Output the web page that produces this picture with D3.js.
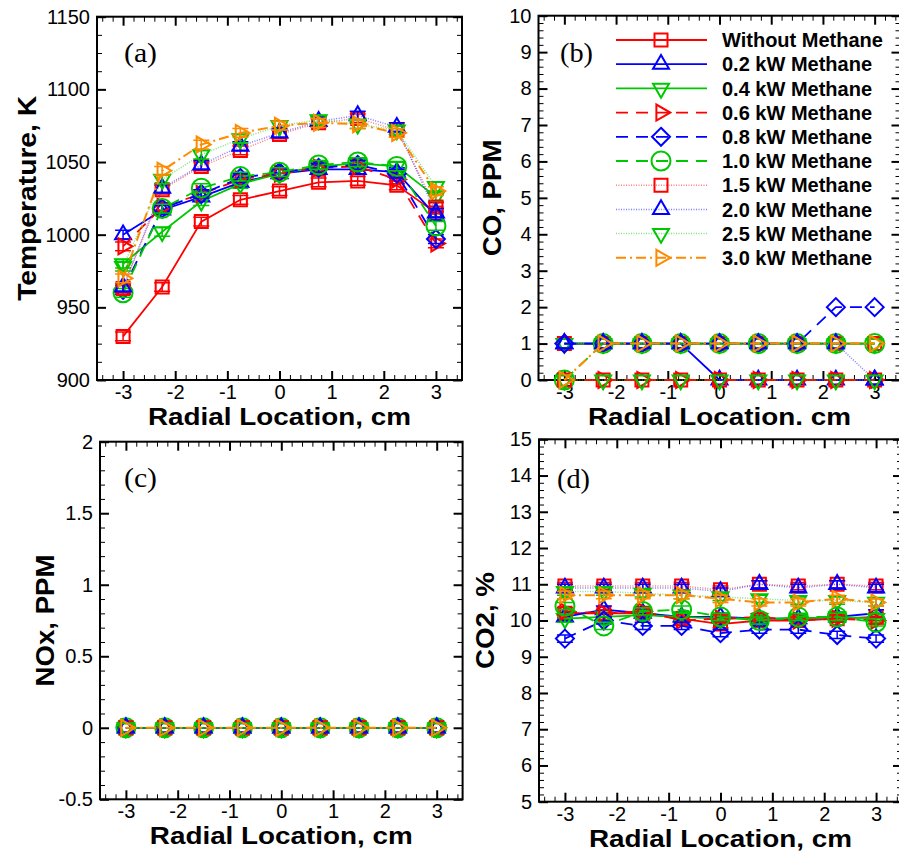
<!DOCTYPE html>
<html>
<head>
<meta charset="utf-8">
<script src="https://cdn.jsdelivr.net/npm/d3@7"></script>
<style>
  body { margin: 0; background: #fff; }
  svg text { font-family: Arial, 'Liberation Sans', sans-serif; }
</style>
</head>
<body>
<svg id="fig" width="899" height="852"></svg>
<script>
// radial measuring positions (cm)
const radial = [-3, -2.25, -1.5, -0.75, 0, 0.75, 1.5, 2.25, 3];
const xTicks = [-3, -2, -1, 0, 1, 2, 3];

const seriesNames = ['Without Methane', '0.2 kW Methane', '0.4 kW Methane', '0.6 kW Methane',
  '0.8 kW Methane', '1.0 kW Methane', '1.5 kW Methane', '2.0 kW Methane', '2.5 kW Methane', '3.0 kW Methane'];

// (a) temperature, K  (one row per series)
const temperature = [
  [930, 964, 1009, 1024, 1030, 1036, 1037, 1034, 1015],
  [1000, 1017, 1026, 1036, 1042, 1045, 1045, 1043, 1013],
  [980, 1002, 1023, 1035, 1042, 1047, 1049, 1047, 1026],
  [992, 1019, 1028, 1038, 1042, 1046, 1047, 1038, 994],
  [962, 1018, 1028, 1039, 1043, 1046, 1048, 1042, 997],
  [960, 1018, 1032, 1040, 1043, 1048, 1050, 1047, 1006],
  [963, 1031, 1047, 1058, 1069, 1077, 1080, 1072, 1019],
  [964, 1032, 1048, 1061, 1070, 1078, 1082, 1074, 1015],
  [978, 1038, 1055, 1066, 1075, 1079, 1076, 1072, 1033],
  [970, 1044, 1062, 1070, 1075, 1077, 1076, 1070, 1030]
];
const tempErr = 3;
const tempTicks = [900, 950, 1000, 1050, 1100, 1150];

// (b) CO, PPM
const co = [
  [1, 1, 1, 1, 1, 1, 1, 1, 1],
  [1, 1, 1, 1, 0, 0, 0, 0, 0],
  [1, 1, 1, 1, 1, 1, 1, 1, 1],
  [0, 0, 0, 0, 0, 0, 0, 0, 0],
  [1, 1, 1, 1, 1, 1, 1, 2, 2],
  [0, 1, 1, 1, 1, 1, 1, 1, 1],
  [0, 0, 0, 0, 0, 0, 0, 0, 0],
  [1, 1, 1, 1, 1, 1, 1, 1, 0],
  [0, 0, 0, 0, 0, 0, 0, 0, 0],
  [0, 1, 1, 1, 1, 1, 1, 1, 1]
];
const coTicks = [0, 1, 2, 3, 4, 5, 6, 7, 8, 9, 10];

// (c) NOx, PPM
const nox = [
  [0, 0, 0, 0, 0, 0, 0, 0, 0],
  [0, 0, 0, 0, 0, 0, 0, 0, 0],
  [0, 0, 0, 0, 0, 0, 0, 0, 0],
  [0, 0, 0, 0, 0, 0, 0, 0, 0],
  [0, 0, 0, 0, 0, 0, 0, 0, 0],
  [0, 0, 0, 0, 0, 0, 0, 0, 0],
  [0, 0, 0, 0, 0, 0, 0, 0, 0],
  [0, 0, 0, 0, 0, 0, 0, 0, 0],
  [0, 0, 0, 0, 0, 0, 0, 0, 0],
  [0, 0, 0, 0, 0, 0, 0, 0, 0]
];
const noxTicks = [-0.5, 0, 0.5, 1, 1.5, 2];

// (d) CO2, %
const co2 = [
  [10.2, 10.2, 10.2, 10.05, 9.9, 10.0, 10.0, 10.05, 10.1],
  [10.1, 10.3, 10.2, 10.1, 10.1, 10.05, 10.05, 10.1, 10.2],
  [10.05, 10.1, 10.15, 10.1, 10.05, 10.05, 10.05, 10.1, 10.05],
  [10.25, 10.2, 10.25, 10.0, 10.05, 10.1, 10.0, 10.05, 10.0],
  [9.5, 10.0, 9.85, 9.85, 9.65, 9.75, 9.75, 9.6, 9.5],
  [10.4, 9.85, 10.25, 10.3, 10.1, 10.0, 10.1, 10.1, 9.95],
  [10.95, 10.95, 10.95, 10.95, 10.85, 11.0, 10.95, 11.0, 10.95],
  [10.9, 10.9, 10.9, 10.9, 10.8, 11.0, 10.9, 11.0, 10.9],
  [10.8, 10.8, 10.75, 10.7, 10.65, 10.6, 10.55, 10.55, 10.5],
  [10.7, 10.7, 10.7, 10.7, 10.6, 10.5, 10.5, 10.6, 10.5]
];
const co2Err = 0.1;
const co2Ticks = [5, 6, 7, 8, 9, 10, 11, 12, 13, 14, 15];

// line / symbol styles, same order as seriesNames
const RED = '#ff0000', BLUE = '#0000ff', GREEN = '#00c800', ORANGE = '#ff8a00';
const styles = [
  { color: RED, dash: null, symbol: 'square', width: 1.8, op: 1 },
  { color: BLUE, dash: null, symbol: 'tri-up', width: 1.8, op: 1 },
  { color: GREEN, dash: null, symbol: 'tri-down', width: 1.8, op: 1 },
  { color: RED, dash: '12,8', symbol: 'tri-right', width: 1.8, op: 1 },
  { color: BLUE, dash: '12,8', symbol: 'diamond', width: 1.8, op: 1 },
  { color: GREEN, dash: '12,8', symbol: 'circle', width: 1.8, op: 1 },
  { color: RED, dash: '1,1.5', symbol: 'square', width: 1.5, op: 0.5 },
  { color: BLUE, dash: '1,1.5', symbol: 'tri-up', width: 1.5, op: 0.5 },
  { color: GREEN, dash: '1,1.5', symbol: 'tri-down', width: 1.5, op: 0.5 },
  { color: ORANGE, dash: '10,4,2,4', symbol: 'tri-right', width: 2, op: 1 }
];

function symbolPath(type) {
  const s = 16, h = s * Math.sqrt(3) / 2;
  switch (type) {
    case 'square': return 'M-6.5,-6.5H6.5V6.5H-6.5Z';
    case 'tri-up': return `M0,${-h * 2 / 3}L${s / 2},${h / 3}L${-s / 2},${h / 3}Z`;
    case 'tri-down': return `M0,${h * 2 / 3}L${s / 2},${-h / 3}L${-s / 2},${-h / 3}Z`;
    case 'tri-right': return `M${h * 2 / 3},0L${-h / 3},${s / 2}L${-h / 3},${-s / 2}Z`;
    case 'diamond': return 'M0,-9L9,0L0,9L-9,0Z';
    default: return 'M9.5,0A9.5,9.5 0 1,1 -9.5,0A9.5,9.5 0 1,1 9.5,0Z';
  }
}

const svg = d3.select('#fig');

const panels = [
  { label: '(a)', data: temperature, err: tempErr, yTicks: tempTicks, yMinor: 12.5,
    left: 97, right: 462, top: 16.7, bottom: 380,
    xTitle: 'Radial Location, cm', yTitle: 'Temperature, K', yTitleLen: 205,
    yTitleX: 36, labelX: 124, labelY: 62 },
  { label: '(b)', data: co, err: 0, yTicks: coTicks, yMinor: 0.2,
    left: 538.5, right: 900.5, top: 15.7, bottom: 380,
    xTitle: 'Radial Location. cm', yTitle: 'CO, PPM', yTitleLen: 117,
    yTitleX: 501, labelX: 560, labelY: 62, legend: true },
  { label: '(c)', data: nox, err: 0, yTicks: noxTicks, yMinor: 0.1,
    left: 100, right: 462.6, top: 441.7, bottom: 799.3,
    xTitle: 'Radial Location, cm', yTitle: 'NOx, PPM', yTitleLen: 132,
    yTitleX: 54, labelX: 124, labelY: 487 },
  { label: '(d)', data: co2, err: co2Err, yTicks: co2Ticks, yMinor: 0.2,
    left: 539, right: 902, top: 439.3, bottom: 801.7,
    xTitle: 'Radial Location, cm', yTitle: 'CO2, %', yTitleLen: 97,
    yTitleX: 494, labelX: 557, labelY: 488 }
];

function styleAxis(sel, fontSize, strokeW) {
  sel.select('.domain').remove();
  sel.selectAll('line').attr('stroke-width', strokeW);
  sel.selectAll('text').attr('font-size', fontSize).attr('font-family', "Arial, 'Liberation Sans', sans-serif");
}

function drawPanel(p) {
  const x = d3.scaleLinear().domain([-3.5, 3.5]).range([p.left, p.right]);
  const yDom = d3.extent(p.yTicks);
  const y = d3.scaleLinear().domain(yDom).range([p.bottom, p.top]);
  const g = svg.append('g');

  const isMajor = (v, ticks) => ticks.some(t => Math.abs(t - v) < 1e-6);
  const xMinor = d3.range(-3.4, 3.41, 0.2).filter(v => !isMajor(v, xTicks));
  const yMinor = d3.range(yDom[0], yDom[1] + 1e-6, p.yMinor).filter(v => !isMajor(v, p.yTicks));

  // minor ticks, all four sides, pointing inwards
  g.append('g').attr('transform', `translate(0,${p.bottom})`)
    .call(d3.axisBottom(x).tickValues(xMinor).tickSizeInner(-5).tickSizeOuter(0).tickFormat(''))
    .call(s => styleAxis(s, 0, 1));
  g.append('g').attr('transform', `translate(0,${p.top})`)
    .call(d3.axisTop(x).tickValues(xMinor).tickSizeInner(-5).tickSizeOuter(0).tickFormat(''))
    .call(s => styleAxis(s, 0, 1));
  g.append('g').attr('transform', `translate(${p.left},0)`)
    .call(d3.axisLeft(y).tickValues(yMinor).tickSizeInner(-5).tickSizeOuter(0).tickFormat(''))
    .call(s => styleAxis(s, 0, 1));
  g.append('g').attr('transform', `translate(${p.right},0)`)
    .call(d3.axisRight(y).tickValues(yMinor).tickSizeInner(-5).tickSizeOuter(0).tickFormat(''))
    .call(s => styleAxis(s, 0, 1));

  // major ticks with labels
  g.append('g').attr('transform', `translate(0,${p.bottom})`)
    .call(d3.axisBottom(x).tickValues(xTicks).tickSizeInner(-9).tickSizeOuter(0).tickPadding(5).tickFormat(d => String(d)))
    .call(s => styleAxis(s, 20, 2));
  g.append('g').attr('transform', `translate(0,${p.top})`)
    .call(d3.axisTop(x).tickValues(xTicks).tickSizeInner(-9).tickSizeOuter(0).tickFormat(''))
    .call(s => styleAxis(s, 0, 2));
  g.append('g').attr('transform', `translate(${p.left},0)`)
    .call(d3.axisLeft(y).tickValues(p.yTicks).tickSizeInner(-9).tickSizeOuter(0).tickPadding(7).tickFormat(d => String(d)))
    .call(s => styleAxis(s, 20, 2));
  g.append('g').attr('transform', `translate(${p.right},0)`)
    .call(d3.axisRight(y).tickValues(p.yTicks).tickSizeInner(-9).tickSizeOuter(0).tickFormat(''))
    .call(s => styleAxis(s, 0, 2));

  // frame
  g.append('rect')
    .attr('x', p.left).attr('y', p.top)
    .attr('width', p.right - p.left).attr('height', p.bottom - p.top)
    .attr('fill', 'none').attr('stroke', '#000').attr('stroke-width', 2);

  // titles
  g.append('text')
    .attr('x', (p.left + p.right) / 2).attr('y', p.bottom + 45)
    .attr('text-anchor', 'middle').attr('font-size', 24).attr('font-weight', 'bold')
    .attr('textLength', 263).attr('lengthAdjust', 'spacingAndGlyphs')
    .text(p.xTitle);
  g.append('text')
    .attr('transform', `translate(${p.yTitleX},${(p.top + p.bottom) / 2}) rotate(-90)`)
    .attr('text-anchor', 'middle').attr('font-size', 25).attr('font-weight', 'bold')
    .attr('textLength', p.yTitleLen).attr('lengthAdjust', 'spacingAndGlyphs')
    .text(p.yTitle);
  g.append('text')
    .attr('x', p.labelX).attr('y', p.labelY)
    .attr('font-size', 27).attr('textLength', 33).attr('lengthAdjust', 'spacingAndGlyphs')
    .style('font-family', "'Times New Roman', 'Liberation Serif', serif")
    .text(p.label);

  // series
  const line = d3.line().x(d => x(d[0])).y(d => y(d[1]));
  styles.forEach((s, i) => {
    const pts = radial.map((r, j) => [r, p.data[i][j]]);
    const sg = g.append('g');
    sg.append('path').datum(pts).attr('d', line)
      .attr('fill', 'none').attr('stroke', s.color).attr('stroke-width', s.width)
      .attr('stroke-dasharray', s.dash).attr('opacity', s.op);
    if (p.err) {
      sg.selectAll('.eb').data(pts).enter().append('path')
        .attr('d', d => {
          const yl = y(d[1] - p.err), yh = y(d[1] + p.err), xc = x(d[0]);
          return `M${xc},${yl}V${yh}M${xc - 8},${yl}H${xc + 8}M${xc - 8},${yh}H${xc + 8}`;
        })
        .attr('fill', 'none').attr('stroke', s.color).attr('stroke-width', 1.5);
    }
    sg.selectAll('.mk').data(pts).enter().append('path')
      .attr('transform', d => `translate(${x(d[0])},${y(d[1])})`)
      .attr('d', symbolPath(s.symbol))
      .attr('fill', 'none').attr('stroke', s.color).attr('stroke-width', 2);
  });

  if (p.legend) {
    const lg = g.append('g');
    seriesNames.forEach((name, i) => {
      const s = styles[i];
      const ly = 40 + i * 24.2;
      lg.append('line').attr('x1', 616).attr('x2', 707).attr('y1', ly).attr('y2', ly)
        .attr('stroke', s.color).attr('stroke-width', s.width)
        .attr('stroke-dasharray', s.dash).attr('opacity', s.op);
      lg.append('path').attr('transform', `translate(661,${ly})`)
        .attr('d', symbolPath(s.symbol))
        .attr('fill', 'none').attr('stroke', s.color).attr('stroke-width', 2);
      lg.append('text').attr('x', 722).attr('y', ly).attr('dy', '0.36em')
        .attr('font-size', 20).attr('font-weight', 'bold').text(name);
    });
  }
}

panels.forEach(drawPanel);
</script>
</body>
</html>
